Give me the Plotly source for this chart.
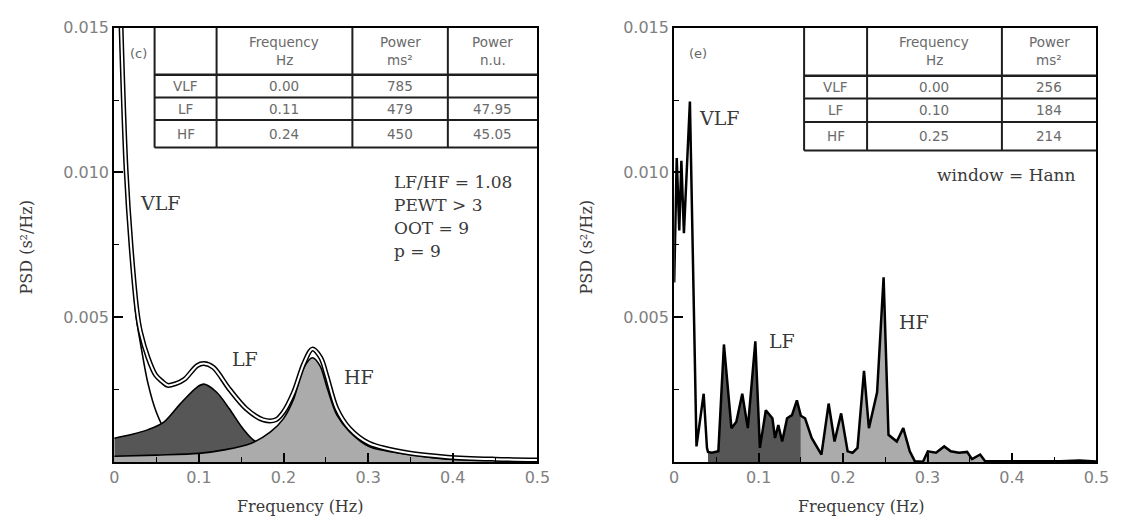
import plotly.graph_objects as go

# ---------------- data ----------------
# (c) autoregressive spectrum, components
vlf_f = [0.004, 0.008, 0.014, 0.020, 0.026, 0.031, 0.040, 0.050, 0.060, 0.070, 0.085, 0.10, 0.13, 0.16, 0.20, 0.25, 0.30, 0.40, 0.50]
vlf_v = [0.0200, 0.0150, 0.0100, 0.0071, 0.0050, 0.0041, 0.0027, 0.0017, 0.0011, 0.0008, 0.0006, 0.00045, 0.0003, 0.00022, 0.00015, 0.00011, 0.00008, 0.00005, 0.00003]

tot_f = [0.004, 0.008, 0.014, 0.020, 0.027, 0.031, 0.040, 0.049, 0.056, 0.063, 0.072, 0.083, 0.098, 0.106, 0.117, 0.136, 0.156, 0.176, 0.191, 0.200, 0.212, 0.224, 0.234, 0.244, 0.251, 0.263, 0.278, 0.301, 0.348, 0.394, 0.45, 0.50]
tot_v = [0.0200, 0.0151, 0.0101, 0.0074, 0.0052, 0.0045, 0.0036, 0.0030, 0.0028, 0.00265, 0.0027, 0.00286, 0.00333, 0.0034, 0.00327, 0.00252, 0.00184, 0.00146, 0.00146, 0.00173, 0.00241, 0.0034, 0.0039, 0.0036, 0.00299, 0.00184, 0.00116, 0.00065, 0.00031, 0.00017, 0.0001, 0.00007]

lf_f = [0, 0.02, 0.04, 0.059, 0.078, 0.098, 0.106, 0.121, 0.136, 0.152, 0.167, 0.20, 0.25, 0.30, 0.40, 0.50]
lf_v = [0.00082, 0.00095, 0.00112, 0.00139, 0.00201, 0.00259, 0.00269, 0.00241, 0.00184, 0.00116, 0.00071, 0.00044, 0.00027, 0.00017, 0.0001, 0.00007]

hf_f = [0, 0.05, 0.10, 0.13, 0.162, 0.185, 0.200, 0.212, 0.223, 0.234, 0.243, 0.252, 0.263, 0.278, 0.301, 0.348, 0.394, 0.45, 0.50]
hf_v = [0.0002, 0.00024, 0.0003, 0.00042, 0.00065, 0.00105, 0.0015, 0.00218, 0.0032, 0.0036, 0.00333, 0.00252, 0.00163, 0.00105, 0.00054, 0.00027, 0.0001, 0.00007, 0.00005]

# (e) Hann-window periodogram
per_f = [0, 0.003, 0.006, 0.0085, 0.0115, 0.0186, 0.0264, 0.0349, 0.0388, 0.04, 0.0446, 0.0523, 0.0589, 0.0678,
         0.0736, 0.0806, 0.0872, 0.0961, 0.1015, 0.1085, 0.1163, 0.1194, 0.1233, 0.1279, 0.1337, 0.1395, 0.1453,
         0.15, 0.155, 0.1628, 0.1744, 0.1829, 0.1899, 0.1977, 0.2054, 0.2112, 0.2171, 0.2248, 0.2306, 0.2403,
         0.248, 0.2538, 0.2636, 0.2713, 0.279, 0.2849, 0.2946, 0.3004, 0.3101, 0.3198, 0.3275, 0.3372, 0.3469,
         0.3527, 0.3624, 0.3682, 0.3837, 0.40, 0.42, 0.457, 0.48, 0.50]
per_v = [0.0062, 0.0105, 0.0080, 0.0104, 0.0079, 0.01245, 0.00054, 0.00236, 0.00049, 0.00035, 0.00032, 0.00037, 0.00406, 0.00117,
         0.00139, 0.00236, 0.00117, 0.00417, 0.00049, 0.00179, 0.00151, 0.00083, 0.00128, 0.00071, 0.00151, 0.00162, 0.00213,
         0.00160, 0.00151, 0.00083, 0.00026, 0.00202, 0.00071, 0.00168, 0.00037, 0.00032, 0.00049, 0.00315, 0.00117, 0.00241,
         0.00638, 0.00094, 0.00071, 0.00117, 0.00037, 0.00003, 0.00001, 0.00037, 0.00032, 0.00054, 0.00037, 0.00032, 0.00035,
         0.0001, 0.00026, 0.00003, 0.00003, 0.00003, 0.00002, 0.00003, 0.00005, 0.00002]
LF_BAND = (0.04, 0.15)
HF_BAND = (0.15, 0.40)

# tables
tab_c_head1 = ["Frequency", "Power", "Power"]
tab_c_head2 = ["Hz", "ms²", "n.u."]
tab_c_rows = ["VLF", "LF", "HF"]
tab_c_freq = ["0.00", "0.11", "0.24"]
tab_c_pow = ["785", "479", "450"]
tab_c_nu = ["", "47.95", "45.05"]

tab_e_head1 = ["Frequency", "Power"]
tab_e_head2 = ["Hz", "ms²"]
tab_e_rows = ["VLF", "LF", "HF"]
tab_e_freq = ["0.00", "0.10", "0.25"]
tab_e_pow = ["256", "184", "214"]

x_ticks = [0, 0.1, 0.2, 0.3, 0.4, 0.5]
x_ticktext = ["0", "0.1", "0.2", "0.3", "0.4", "0.5"]
y_ticks = [0.005, 0.010, 0.015]
y_ticktext = ["0.005", "0.010", "0.015"]
x_minor = [0.05, 0.15, 0.25, 0.35, 0.45]
y_minor = [0.0025, 0.0075, 0.0125]

# ---------------- figure ----------------
W, H = 1133, 522
def X(px): return px / W
def Y(py): return 1 - py / H

DARK = "#565656"
LIGHT = "#ababab"
fig = go.Figure()

spl = dict(shape="spline", smoothing=0.9)
# left panel
fig.add_trace(go.Scatter(x=vlf_f, y=vlf_v, mode="lines", line=dict(color="black", width=1.6, **spl),
                         xaxis="x", yaxis="y"))
fig.add_trace(go.Scatter(x=lf_f, y=lf_v, mode="lines", line=dict(color="black", width=1.6, **spl),
                         fill="tozeroy", fillcolor=DARK, xaxis="x", yaxis="y"))
fig.add_trace(go.Scatter(x=hf_f, y=hf_v, mode="lines", line=dict(color="black", width=1.6, **spl),
                         fill="tozeroy", fillcolor=LIGHT, xaxis="x", yaxis="y"))
fig.add_trace(go.Scatter(x=tot_f, y=tot_v, mode="lines", line=dict(color="black", width=5, **spl),
                         xaxis="x", yaxis="y"))
fig.add_trace(go.Scatter(x=tot_f, y=tot_v, mode="lines", line=dict(color="white", width=2, **spl),
                         xaxis="x", yaxis="y"))

# right panel
lf_seg = [(f, v) for f, v in zip(per_f, per_v) if LF_BAND[0] <= f <= LF_BAND[1]]
hf_seg = [(f, v) for f, v in zip(per_f, per_v) if HF_BAND[0] <= f <= HF_BAND[1]]
fig.add_trace(go.Scatter(x=[p[0] for p in lf_seg], y=[p[1] for p in lf_seg], mode="lines", line=dict(width=0),
                         fill="tozeroy", fillcolor=DARK, xaxis="x2", yaxis="y2"))
fig.add_trace(go.Scatter(x=[p[0] for p in hf_seg], y=[p[1] for p in hf_seg], mode="lines", line=dict(width=0),
                         fill="tozeroy", fillcolor=LIGHT, xaxis="x2", yaxis="y2"))
fig.add_trace(go.Scatter(x=per_f, y=per_v, mode="lines", line=dict(color="black", width=2.5),
                         xaxis="x2", yaxis="y2"))

tickfont = dict(family="DejaVu Sans", size=16, color="#808080")
def xax(domain, anchor):
    return dict(domain=domain, anchor=anchor, range=[0, 0.5], tickmode="array", tickvals=x_ticks, ticktext=x_ticktext,
                ticks="inside", ticklen=9, tickwidth=1.5, tickcolor="black", showgrid=False, zeroline=False,
                showline=True, linewidth=2, linecolor="black", mirror=True, tickfont=tickfont,
                minor=dict(ticks="inside", ticklen=5, tickwidth=1.2, tickcolor="black", tickvals=x_minor, showgrid=False))
def yax(domain, anchor):
    return dict(domain=domain, anchor=anchor, range=[0, 0.015], tickmode="array", tickvals=y_ticks, ticktext=y_ticktext,
                ticks="inside", ticklen=9, tickwidth=1.5, tickcolor="black", showgrid=False, zeroline=False,
                showline=True, linewidth=2, linecolor="black", mirror=True, tickfont=tickfont,
                minor=dict(ticks="inside", ticklen=5, tickwidth=1.2, tickcolor="black", tickvals=y_minor, showgrid=False))

ydom = [Y(461), Y(19)]
fig.update_layout(
    width=W, height=H, margin=dict(l=0, r=0, t=0, b=0),
    paper_bgcolor="white", plot_bgcolor="white", showlegend=False,
    xaxis=xax([X(111), X(541)], "y"), yaxis=yax(ydom, "x"),
    xaxis2=xax([X(680), X(1109)], "y2"), yaxis2=yax(ydom, "x2"),
)

ann = []
shapes = []
serif = "DejaVu Serif"
def txt(x, y, s, size=19, family=serif, color="#3a3a3a", xanchor="center", angle=0):
    if not s:
        return
    ann.append(dict(x=X(x), y=Y(y), xref="paper", yref="paper", text=s, showarrow=False, textangle=angle,
                    font=dict(family=family, size=size, color=color), xanchor=xanchor, yanchor="middle"))
def hline(x0, x1, y, w=2):
    shapes.append(dict(type="line", xref="paper", yref="paper", x0=X(x0), x1=X(x1), y0=Y(y), y1=Y(y),
                       line=dict(color="#1e1e1e", width=w)))
def vline(x, y0, y1, w=2):
    shapes.append(dict(type="line", xref="paper", yref="paper", x0=X(x), x1=X(x), y0=Y(y0), y1=Y(y1),
                       line=dict(color="#1e1e1e", width=w)))

# axis titles
for cx in (300, 870):
    txt(cx, 506, "Frequency (Hz)", size=16)
for cx in (22, 591):
    txt(cx, 242, "PSD (s²/Hz)", size=16, angle=-90)

# left panel labels
txt(136, 45, "(c)", size=13, family="DejaVu Sans", color="#666")
txt(158, 197, "VLF", size=19)
txt(244, 356, "LF", size=19)
txt(360, 374, "HF", size=19)
for i, s in enumerate(["LF/HF = 1.08", "PEWT > 3", "OOT = 9", "p = 9"]):
    txt(393, 176 + 23.5 * i, s, size=17, xanchor="left")

# right panel labels
txt(704, 45, "(e)", size=13, family="DejaVu Sans", color="#666")
txt(726, 111, "VLF", size=19)
txt(790, 338, "LF", size=19)
txt(924, 318, "HF", size=19)
txt(1018, 169, "window = Hann", size=17)

# table (c)
tf = "DejaVu Sans"
tc = "#6a6a6a"
ts = 13.5
tcx = [152, 215, 353, 450, 541]
tcy = [19, 67, 90, 113, 141]
for x in tcx[:4]:
    vline(x, tcy[0], tcy[-1])
for y in tcy[1:]:
    hline(tcx[0], tcx[-1], y, w=2.5 if y == tcy[1] else 2)
for j in range(3):
    cx = (tcx[j + 1] + tcx[j + 2]) / 2
    txt(cx, 34, tab_c_head1[j], size=ts, family=tf, color=tc)
    txt(cx, 52, tab_c_head2[j], size=ts, family=tf, color=tc)
for i in range(3):
    cy = (tcy[i + 1] + tcy[i + 2]) / 2
    txt((tcx[0] + tcx[1]) / 2, cy, tab_c_rows[i], size=ts, family=tf, color=tc)
    txt((tcx[1] + tcx[2]) / 2, cy, tab_c_freq[i], size=ts, family=tf, color=tc)
    txt((tcx[2] + tcx[3]) / 2, cy, tab_c_pow[i], size=ts, family=tf, color=tc)
    txt((tcx[3] + tcx[4]) / 2, cy, tab_c_nu[i], size=ts, family=tf, color=tc)

# table (e)
tex = [812, 876, 1013, 1109]
tey = [19, 68, 91, 115, 144]
for x in tex[:3]:
    vline(x, tey[0], tey[-1])
for y in tey[1:]:
    hline(tex[0], tex[-1], y, w=2.5 if y == tey[1] else 2)
for j in range(2):
    cx = (tex[j + 1] + tex[j + 2]) / 2
    txt(cx, 34, tab_e_head1[j], size=ts, family=tf, color=tc)
    txt(cx, 52, tab_e_head2[j], size=ts, family=tf, color=tc)
for i in range(3):
    cy = (tey[i + 1] + tey[i + 2]) / 2
    txt((tex[0] + tex[1]) / 2, cy, tab_e_rows[i], size=ts, family=tf, color=tc)
    txt((tex[1] + tex[2]) / 2, cy, tab_e_freq[i], size=ts, family=tf, color=tc)
    txt((tex[2] + tex[3]) / 2, cy, tab_e_pow[i], size=ts, family=tf, color=tc)

fig.update_layout(annotations=ann, shapes=shapes)
fig.write_html("out.html")
